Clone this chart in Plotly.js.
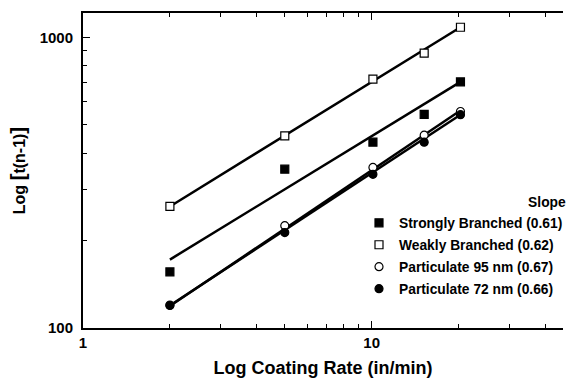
<!DOCTYPE html>
<html>
<head>
<meta charset="utf-8">
<script src="https://cdn.plot.ly/plotly-3.0.1.min.js"></script>
<style>html,body{margin:0;padding:0;background:#fff;}#chart{width:568px;height:383px;}</style>
</head>
<body>
<div id="chart"></div>
<script>
// Coating rate (in/min)
const coatingRate = [2.0, 5.0, 10.1, 15.2, 20.3];
// t(n-1) values
const stronglyBranched = [156, 352, 436, 543, 703];
const weaklyBranched   = [262, 458, 718, 883, 1084];
const particulate95    = [120, 225, 357, 461, 556];
const particulate72    = [119.5, 213, 338, 436, 542];
// Fitted power-law lines (end points)
const fitX = [2.0, 20.3];
const fitStrongly = [172, 703];
const fitWeakly   = [262, 1084];
const fit95       = [119, 560];
const fit72       = [119.5, 542];
const seriesNames = ["Strongly Branched (0.61)", "Weakly Branched (0.62)", "Particulate 95 nm (0.67)", "Particulate 72 nm (0.66)"];
const xTickVals = [1, 10];
const xMinorVals = [2,3,4,5,6,7,8,9,20,30,40];
const yTickVals = [100, 1000];
const yMinorVals = [200,300,400,500,600,700,800,900];

const FONT = "Liberation Sans, Arial, Helvetica, sans-serif";
const lineStyle = {color: "#000", width: 2.5};
function fitTrace(y) {
  return {x: fitX, y: y, mode: "lines", line: lineStyle, showlegend: false, hoverinfo: "skip"};
}
function markerTrace(y, name, symbol, fill, size, group) {
  return {x: coatingRate, y: y, mode: "markers", name: name, legendgroup: group,
    marker: {symbol: symbol, size: size, color: fill, line: {color: "#000", width: 1.2}}};
}
const data = [
  fitTrace(fitWeakly), fitTrace(fitStrongly), fitTrace(fit95), fitTrace(fit72),
  markerTrace(stronglyBranched, seriesNames[0], "square", "#000", 8, "a"),
  markerTrace(weaklyBranched, seriesNames[1], "square", "#fff", 8, "b"),
  markerTrace(particulate95, seriesNames[2], "circle", "#fff", 8, "c"),
  markerTrace(particulate72, seriesNames[3], "circle", "#000", 8, "d")
];
const axisCommon = {
  type: "log", showgrid: false, zeroline: false, showline: true, linecolor: "#000", linewidth: 2,
  ticks: "inside", ticklen: 7, tickwidth: 1.2, tickcolor: "#000",
  tickfont: {family: FONT, size: 15, color: "#000", weight: "bold"},
  tickmode: "array"
};
const layout = {
  width: 568, height: 383,
  margin: {l: 83, r: 0, t: 13, b: 55},
  paper_bgcolor: "#fff", plot_bgcolor: "#fff",
  font: {family: FONT, color: "#000"},
  xaxis: Object.assign({}, axisCommon, {
    range: [0, 1.6627], mirror: "ticks",
    tickvals: xTickVals, ticktext: xTickVals.map(String),
    minor: {tickmode: "array", tickvals: xMinorVals, ticks: "inside", ticklen: 4, tickwidth: 1, tickcolor: "#000"},
    title: {text: "Log Coating Rate (in/min)", font: {family: FONT, size: 18, color: "#000", weight: "bold"}, standoff: 11}
  }),
  yaxis: Object.assign({}, axisCommon, {
    range: [2, 3.084], mirror: false, ticklabelstandoff: 5,
    tickvals: yTickVals, ticktext: yTickVals.map(String),
    minor: {tickmode: "array", tickvals: yMinorVals, ticks: "inside", ticklen: 4, tickwidth: 1, tickcolor: "#000"},
    title: {text: "Log <span style=\"font-size:21px\">[</span>t(n-1)<span style=\"font-size:21px\">]</span>", font: {family: FONT, size: 16, color: "#000", weight: "bold"}, standoff: 10}
  }),
  showlegend: true,
  legend: {
    x: 0.575, xanchor: "left", y: 0.44, yanchor: "top",
    bgcolor: "rgba(0,0,0,0)", borderwidth: 0,
    traceorder: "grouped", tracegroupgap: 1,
    font: {family: FONT, size: 13.8, color: "#000", weight: "bold"},
    title: {text: "Slope", side: "top right", font: {family: FONT, size: 13.8, color: "#000", weight: "bold"}}
  }
};
Plotly.newPlot("chart", data, layout, {displayModeBar: false, staticPlot: true});
</script>
</body>
</html>
